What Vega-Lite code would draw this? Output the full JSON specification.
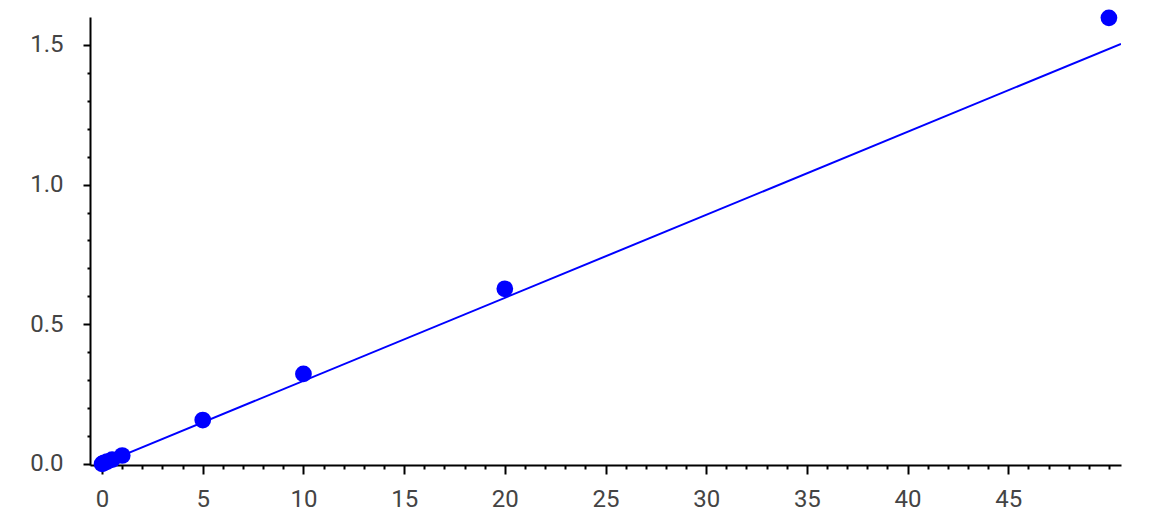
{
  "$schema": "https://vega.github.io/schema/vega-lite/v6.json",
  "description": "Standard curve: measured points with a linear fit",
  "width": 1031,
  "height": 448,
  "autosize": {"type": "none"},
  "padding": {"left": 90, "top": 17, "right": 29, "bottom": 66},
  "config": {
    "view": {"stroke": null},
    "font": "Roboto",
    "axis": {
      "grid": false,
      "title": null,
      "domainColor": "#000000",
      "domainWidth": 2,
      "tickColor": "#000000",
      "tickWidth": 2,
      "labelColor": "#444444",
      "labelFont": "Roboto",
      "labelFontSize": 24,
      "labelOverlap": false,
      "labelFlush": false
    }
  },
  "datasets": {
    "fit": [
      {"x": 0, "y": 0.0},
      {"x": 50.6, "y": 1.504}
    ],
    "points": [
      {"x": 0, "y": 0.0},
      {"x": 0.1, "y": 0.004},
      {"x": 0.25, "y": 0.008},
      {"x": 0.5, "y": 0.015},
      {"x": 1, "y": 0.03},
      {"x": 5, "y": 0.157},
      {"x": 10, "y": 0.322},
      {"x": 20, "y": 0.627},
      {"x": 50, "y": 1.597}
    ]
  },
  "encoding": {
    "x": {
      "field": "x",
      "type": "quantitative",
      "scale": {"domain": [-0.6, 50.6], "nice": false, "zero": false},
      "axis": {
        "values": [0,1,2,3,4,5,6,7,8,9,10,11,12,13,14,15,16,17,18,19,20,21,22,23,24,25,26,27,28,29,30,31,32,33,34,35,36,37,38,39,40,41,42,43,44,45,46,47,48,49,50],
        "labelExpr": "datum.value % 5 === 0 && datum.value < 50 ? datum.label : ''",
        "tickSize": {"condition": {"test": "datum.value % 5 === 0 && datum.value < 50", "value": 9}, "value": 4},
        "labelOverlap": false,
        "labelFlush": false,
        "labelPadding": 13
      }
    },
    "y": {
      "field": "y",
      "type": "quantitative",
      "scale": {"domain": [-0.004, 1.6], "nice": false, "zero": false},
      "axis": {
        "values": [0, 0.1, 0.2, 0.3, 0.4, 0.5, 0.6, 0.7, 0.8, 0.9, 1.0, 1.1, 1.2, 1.3, 1.4, 1.5],
        "labelExpr": "round(datum.value * 10) % 5 === 0 ? format(datum.value, '.1f') : ''",
        "tickSize": {"condition": {"test": "round(datum.value * 10) % 5 === 0", "value": 7}, "value": 3},
        "labelOverlap": false,
        "labelFlush": false,
        "labelPadding": 20
      }
    }
  },
  "layer": [
    {
      "data": {"name": "fit"},
      "mark": {"type": "line", "color": "#0000ff", "strokeWidth": 2, "clip": true}
    },
    {
      "data": {"name": "points"},
      "mark": {"type": "point", "shape": "circle", "filled": true, "opacity": 1, "size": 280, "color": "#0000ff"}
    }
  ]
}
